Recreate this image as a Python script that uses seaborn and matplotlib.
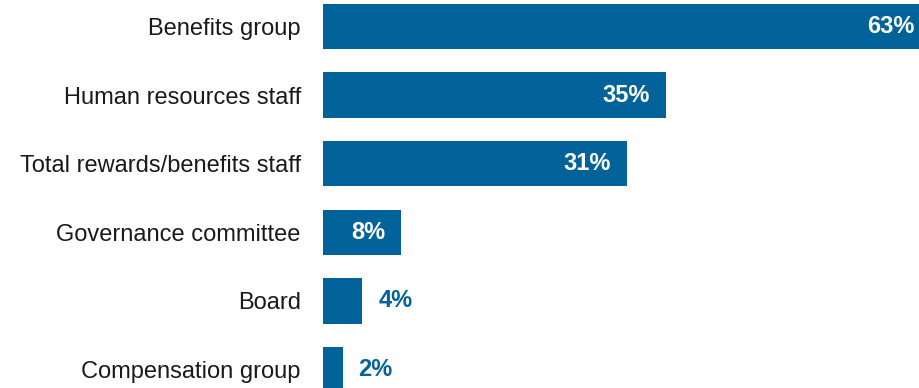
import matplotlib
matplotlib.use("Agg")
import matplotlib.pyplot as plt
import pandas as pd
import seaborn as sns

sns.set_theme(style="white")
plt.rcParams["font.family"] = ["Liberation Sans", "DejaVu Sans"]

CATEGORIES = [
    "Benefits group",
    "Human resources staff",
    "Total rewards/benefits staff",
    "Governance committee",
    "Board",
    "Compensation group",
]
SHARES = [63, 35, 31, 8, 4, 2]

BAR_COLOR = "#02639B"
TEXT_COLOR = "#1a1a1a"

df = pd.DataFrame({"category": CATEGORIES, "share": SHARES})

fig = plt.figure(figsize=(9.2, 3.88), dpi=100)
ax = fig.add_axes([323 / 920, 0, 1 - 323 / 920, 1])

sns.barplot(data=df, x="share", y="category", color=BAR_COLOR, width=0.66,
            saturation=1, linewidth=0, ax=ax)

xmax = (920 - 323) / 9.8
ax.set_xlim(0, xmax)
ax.set_ylim(5.27, -0.386)

px = xmax / (920 - 323)  # data units per pixel
for idx, value in enumerate(df["share"]):
    label = f"{value}%"
    if value >= 8:
        end = min(value, xmax)
        offset = 5 if value > xmax else 16
        ax.text(end - offset * px, idx, label, ha="right", va="center",
                color="white", fontsize=17, fontweight="bold")
    else:
        ax.text(value + 16 * px, idx, label, ha="left", va="center",
                color=BAR_COLOR, fontsize=17, fontweight="bold")

ax.set_xlabel("")
ax.set_ylabel("")
ax.set_xticks([])
ax.tick_params(axis="y", length=0, pad=16, labelsize=17, labelcolor=TEXT_COLOR)
sns.despine(ax=ax, left=True, bottom=True)

fig.savefig("out.png", dpi=100)
plt.close(fig)
